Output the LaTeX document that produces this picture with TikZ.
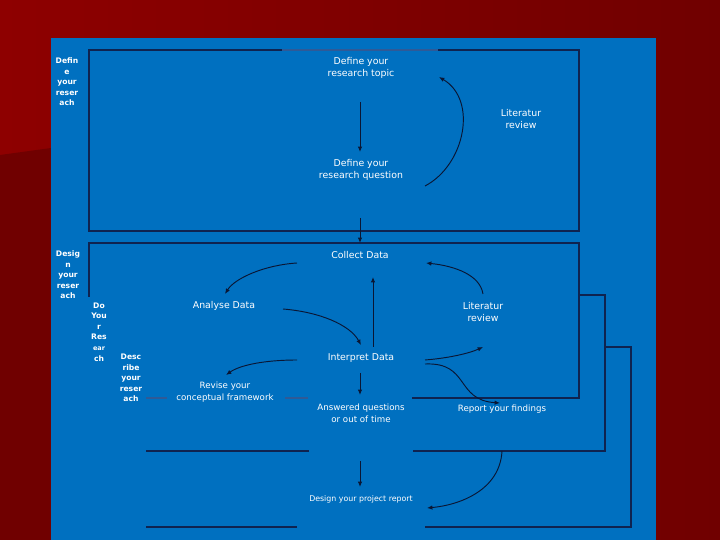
\documentclass[tikz,border=0pt]{standalone}
\usepackage{fontspec}
\setmainfont{DejaVu Sans}
\usetikzlibrary{arrows.meta, calc}

\definecolor{bgredL}{HTML}{8E0000}
\definecolor{bgredR}{HTML}{700000}
\definecolor{panel}{HTML}{0070C0}
\definecolor{boxline}{HTML}{0F2350}
\definecolor{boxfaint}{HTML}{2F5A96}
\definecolor{arrline}{HTML}{0A1634}

\begin{document}
\begin{tikzpicture}[x=0.03cm, y=-0.03cm, >={Latex[length=4.6pt,width=3.8pt]},
  txt/.style={text=white, align=center, inner sep=1pt, font=\fontsize{8}{10.2}\selectfont},
  txts/.style={txt, font=\fontsize{7.4}{10.2}\selectfont},
  txtxs/.style={txt, font=\fontsize{6.7}{9}\selectfont},
  lbl/.style={text=white, align=center, inner sep=0pt, font=\bfseries\fontsize{6.5}{9}\selectfont},
  frame/.style={draw=boxline, line width=0.9pt},
  faint/.style={draw=boxfaint, line width=0.9pt},
  arr/.style={->, draw=arrline, line width=0.8pt}]

\useasboundingbox (0,0) rectangle (720,540);

% ---- background and panel --------------------------------------------------------
\shade[left color=bgredL, right color=bgredR] (0,0) rectangle (720,540);
\fill[bgredR] (0,155) -- (51,148) -- (51,540) -- (0,540) -- cycle;
\fill[panel] (51,38) rectangle (656,540);

% ---- the frames ------------------------------------------------------------------
\draw[frame] (282,50) -- (89,50) -- (89,231) -- (579,231) -- (579,50) -- (438,50);
\draw[faint] (282,50) -- (438,50);

\draw[frame] (89,297) -- (89,243) -- (579,243) -- (579,398) -- (412,398);
\draw[faint] (146,398) -- (167,398);
\draw[faint] (285,398) -- (308,398);

\draw[frame] (579,295) -- (605,295) -- (605,451) -- (413,451);
\draw[frame] (309,451) -- (146,451);

\draw[frame] (605,347) -- (631,347) -- (631,527) -- (425,527);
\draw[frame] (297,527) -- (146,527);

% ---- side labels -----------------------------------------------------------------
\node[lbl] (lblDefine)   at (67,82)   {Defin\\e\\your\\reser\\ach};
\node[lbl] (lblDesign)   at (68,275)  {Desig\\n\\your\\reser\\ach};
\node[lbl] (lblDo)       at (99,332)  {Do\\You\\r\\Res\\{\fontsize{5.5}{9}\selectfont ear}\\ch};
\node[lbl] (lblDescribe) at (131,378) {Desc\\ribe\\your\\reser\\ach};

% ---- steps -----------------------------------------------------------------------
\node[txt]   (topic)     at (361,68)  {Define your\\research topic};
\node[txt]   (question)  at (361,170) {Define your\\research question};
\node[txt]   (litTop)    at (521,119) {Literatur\\review};
\node[txt]   (collect)   at (360,255) {Collect Data};
\node[txt]   (analyse)   at (224,306) {Analyse Data};
\node[txt]   (litMid)    at (483,312) {Literatur\\review};
\node[txt]   (interpret) at (361,358) {Interpret Data};
\node[txts]  (revise)    at (225,392) {Revise your\\conceptual framework};
\node[txts]  (answered)  at (361,413) {Answered questions\\or out of time};
\node[txts]  (report)    at (502,409) {Report your findings};
\node[txtxs] (design)    at (361,499) {Design your project report};

% ---- connectors ------------------------------------------------------------------
\draw[arr] ($(topic.center)+(-1,34)$) -- ($(question.center)+(-1,-18)$);
\draw[arr] ($(question.center)+(64,16)$) .. controls (465,165) and (478,100) .. ($(topic.center)+(78,9)$);
\draw[arr] ($(question.center)+(-1,48)$) -- ($(collect.center)+(0,-12)$);

\draw[arr] ($(collect.center)+(-63,8)$) .. controls (265,265) and (235,278) .. ($(analyse.center)+(1,-12)$);
\draw[arr] ($(analyse.center)+(59,3)$) .. controls (320,312) and (350,325) .. ($(interpret.center)+(0,-13)$);
\draw[arr] ($(interpret.center)+(12,-11)$) -- ($(collect.center)+(13,22)$);
\draw[arr] ($(litMid.center)+(0,-18)$) .. controls (480,275) and (455,266) .. ($(collect.center)+(66,8)$);

\draw[arr] ($(interpret.center)+(-64,2)$) .. controls (265,360) and (240,365) .. ($(revise.center)+(1,-17)$);
\draw[arr] ($(interpret.center)+(64,2)$) .. controls (450,358) and (470,353) .. ($(litMid.center)+(0,35)$);
\draw[arr] ($(interpret.center)+(64,6)$) .. controls (470,362) and (455,400) .. ($(report.center)+(-2,-6)$);
\draw[arr] ($(interpret.center)+(-1,15)$) -- ($(answered.center)+(-1,-18)$);

\draw[arr] ($(answered.center)+(-1,48)$) -- ($(design.center)+(-1,-12)$);
\draw[arr] ($(report.center)+(0,42)$) .. controls (500,490) and (460,505) .. ($(design.center)+(66,9)$);

\end{tikzpicture}
\end{document}
